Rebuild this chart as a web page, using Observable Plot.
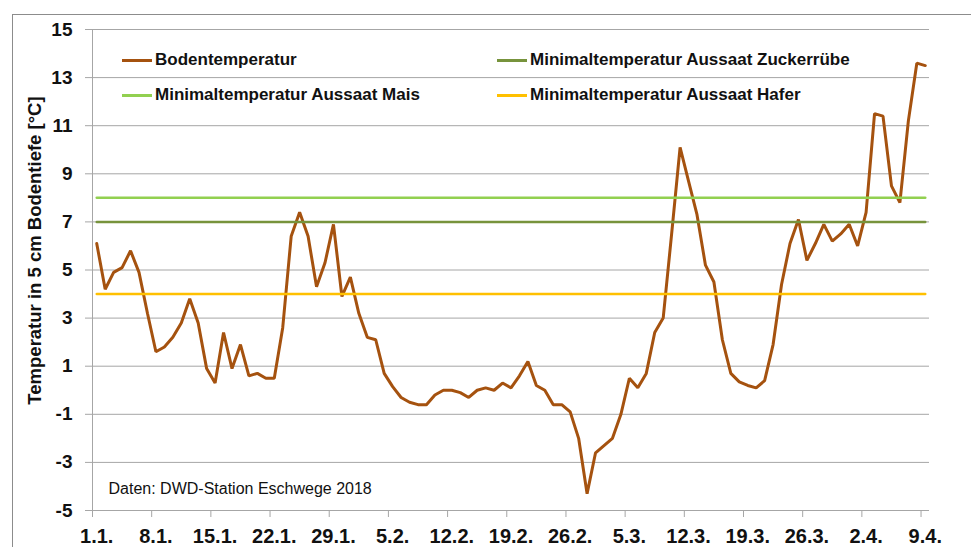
<!DOCTYPE html>
<html>
<head>
<meta charset="utf-8">
<script src="https://cdn.jsdelivr.net/npm/d3@7"></script>
<script src="https://cdn.jsdelivr.net/npm/@observablehq/plot@0.6"></script>
<style>
  body { margin: 0; background: #fff; }
  #wrap { position: relative; width: 971px; height: 547px; overflow: hidden; font-family: 'Liberation Sans', Arial, sans-serif; }
  #frame { position: absolute; left: 12px; top: 14px; width: 980px; height: 560px; border-left: 1.5px solid #8c8c8c; border-top: 1.5px solid #8c8c8c; box-sizing: border-box; }
  #chart { position: absolute; left: 0; top: 0; }
  .leg { position: absolute; height: 24px; display: flex; align-items: center; font-weight: bold; font-size: 17px; color: #111; white-space: nowrap; }
  .sw { display: inline-block; width: 30px; height: 3px; margin-right: 3px; }
</style>
</head>
<body>
<div id="wrap">
  <div id="frame"></div>
  <div id="chart"></div>
</div>
<script>
// Daily soil temperature at 5 cm depth, 1 Jan – 9 Apr 2018 (day index 1..99)
const days = d3.range(1, 100);
const soilTemp = [
  6.1, 4.2, 4.9, 5.1, 5.8, 4.9, 3.2, 1.6, 1.8, 2.2,
  2.8, 3.8, 2.8, 0.9, 0.3, 2.4, 0.9, 1.9, 0.6, 0.7,
  0.5, 0.5, 2.6, 6.4, 7.4, 6.4, 4.3, 5.3, 6.9, 3.9,
  4.7, 3.2, 2.2, 2.1, 0.7, 0.15, -0.3, -0.5, -0.6, -0.6,
  -0.2, 0.0, 0.0, -0.1, -0.3, 0.0, 0.1, 0.0, 0.3, 0.1,
  0.6, 1.2, 0.2, 0.0, -0.6, -0.6, -0.9, -2.0, -4.3, -2.6,
  -2.3, -2.0, -1.0, 0.5, 0.1, 0.7, 2.4, 3.0, 6.5, 10.1,
  8.7, 7.3, 5.2, 4.5, 2.1, 0.7, 0.35, 0.2, 0.1, 0.4,
  1.9, 4.4, 6.1, 7.1, 5.4, 6.1, 6.9, 6.2, 6.5, 6.9,
  6.0, 7.4, 11.5, 11.4, 8.5, 7.8, 11.2, 13.6, 13.5
];
const soilName = "Bodentemperatur";
const soilColor = "#a5520f";

const thresholdNames = [
  "Minimaltemperatur Aussaat Zuckerrübe",
  "Minimaltemperatur Aussaat Mais",
  "Minimaltemperatur Aussaat Hafer"
];
const thresholdValues = [7, 8, 4];
const thresholdColors = ["#77933c", "#92d050", "#ffc000"];

const tickDays = [1, 8, 15, 22, 29, 36, 43, 50, 57, 64, 71, 78, 85, 92, 99];
const tickLabels = ["1.1.", "8.1.", "15.1.", "22.1.", "29.1.", "5.2.", "12.2.", "19.2.", "26.2.", "5.3.", "12.3.", "19.3.", "26.3.", "2.4.", "9.4."];
const yTicks = [-5, -3, -1, 1, 3, 5, 7, 9, 11, 13, 15];
const yTitle = "Temperatur in 5 cm Bodentiefe [°C]";
const caption = "Daten: DWD-Station Eschwege 2018";

const soilRows = days.map((d, i) => ({day: d, value: soilTemp[i]}));
const thresholdRows = thresholdNames.flatMap((name, i) =>
  days.map(d => ({day: d, value: thresholdValues[i], name})));
const labelByDay = new Map(tickDays.map((d, i) => [d, tickLabels[i]]));
const boundaries = tickDays.map(d => d - 0.5);
const grid = "#a6a6a6";

const chart = Plot.plot({
  width: 971,
  height: 547,
  marginLeft: 92,
  marginRight: 42,
  marginTop: 29,
  marginBottom: 37,
  style: {fontFamily: "'Liberation Sans', Arial, sans-serif", background: "transparent", color: "#111", overflow: "visible"},
  x: {domain: [0.5, days.length + 0.5], axis: null},
  y: {domain: [-5, 15], axis: null},
  color: {domain: thresholdNames, range: thresholdColors},
  marks: [
    Plot.gridY(yTicks, {stroke: grid, strokeOpacity: 1, strokeWidth: 1}),
    Plot.ruleX([0.5], {stroke: grid, strokeWidth: 1}),
    Plot.axisY(yTicks, {label: null, tickSize: 7, tickPadding: 13, stroke: grid, fill: "#111", fontSize: 19, fontWeight: "bold", tickFormat: d => String(d)}),
    Plot.axisX(boundaries, {label: null, tickSize: 7, stroke: grid, tickFormat: () => ""}),
    Plot.axisX(tickDays, {label: null, tickSize: 0, tickPadding: 18, fill: "#111", fontSize: 20, fontWeight: "bold", tickFormat: d => labelByDay.get(d)}),
    Plot.line(soilRows, {x: "day", y: "value", stroke: soilColor, strokeWidth: 3, strokeLinejoin: "miter"}),
    Plot.line(thresholdRows, {x: "day", y: "value", z: "name", stroke: "name", strokeWidth: 2.5}),
    Plot.text([yTitle], {frameAnchor: "left", rotate: -90, textAnchor: "middle", dx: -57, dy: -19.5, fontSize: 18.5, fontWeight: "bold", fill: "#111", lineAnchor: "middle"}),
    Plot.text([caption], {frameAnchor: "bottom-left", textAnchor: "start", lineAnchor: "middle", dx: 16, dy: -22, fontSize: 16, fill: "#111"})
  ]
});
document.getElementById("chart").appendChild(chart);

// Legend (two columns, inside plot area)
const legendItems = [
  {name: soilName, color: soilColor},
  {name: thresholdNames[0], color: thresholdColors[0]},
  {name: thresholdNames[1], color: thresholdColors[1]},
  {name: thresholdNames[2], color: thresholdColors[2]}
];
const colLeft = [122, 497];
const rowCenter = [60, 95];
const wrap = document.getElementById("wrap");
legendItems.forEach((item, i) => {
  const el = document.createElement("div");
  el.className = "leg";
  el.style.left = colLeft[i % 2] + "px";
  el.style.top = (rowCenter[Math.floor(i / 2)] - 12) + "px";
  const sw = document.createElement("span");
  sw.className = "sw";
  sw.style.background = item.color;
  el.appendChild(sw);
  el.appendChild(document.createTextNode(item.name));
  wrap.appendChild(el);
});
</script>
</body>
</html>
